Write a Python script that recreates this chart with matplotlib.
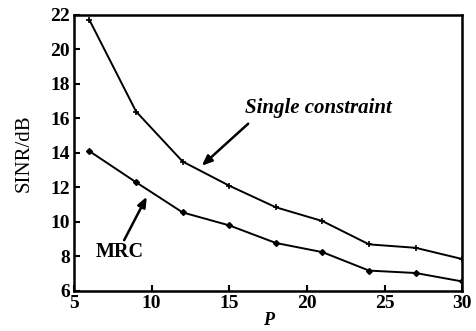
import matplotlib
matplotlib.use("Agg")
import matplotlib.pyplot as plt

P = [6, 9, 12, 15, 18, 21, 24, 27, 30]
single = [21.7, 16.4, 13.5, 12.1, 10.85, 10.05, 8.7, 8.5, 7.85]
mrc = [14.1, 12.3, 10.55, 9.8, 8.78, 8.25, 7.18, 7.04, 6.55]

XTICKS = [5, 10, 15, 20, 25, 30]
YTICKS = [6, 8, 10, 12, 14, 16, 18, 20, 22]

plt.rcParams["font.family"] = ["Liberation Serif", "DejaVu Serif"]

fig = plt.figure(figsize=(4.77, 3.31), dpi=100)
ax = fig.add_axes([0.155, 0.121, 0.814, 0.834])

ax.plot(P, single, color="black", lw=1.4, marker="+", ms=5, mew=1.2)
ax.plot(P, mrc, color="black", lw=1.4, marker="D", ms=3)

ax.set_xlim(5, 30)
ax.set_ylim(6, 22)
ax.set_xticks(XTICKS)
ax.set_yticks(YTICKS)
ax.tick_params(direction="in", length=4, width=1.5, labelsize=14, pad=3)
for lab in ax.get_xticklabels() + ax.get_yticklabels():
    lab.set_fontweight("bold")
for s in ax.spines.values():
    s.set_linewidth(1.8)

ax.set_ylabel("SINR/dB", fontsize=15, labelpad=12)
ax.set_xlabel("P", fontsize=13, style="italic", fontweight="bold", labelpad=0)

arrow = dict(arrowstyle="-|>,head_length=0.6,head_width=0.25", color="black", lw=1.8)
ax.annotate("", xy=(13.1, 13.15), xytext=(16.35, 15.8), arrowprops=arrow)
ax.text(16.0, 16.6, "Single constraint", fontsize=15, style="italic",
        fontweight="bold", va="center", ha="left")
ax.annotate("", xy=(9.77, 11.6), xytext=(8.15, 8.8), arrowprops=arrow)
ax.text(7.95, 8.25, "MRC", fontsize=14.5, fontweight="bold", va="center", ha="center")

fig.savefig("out.png", dpi=100)
